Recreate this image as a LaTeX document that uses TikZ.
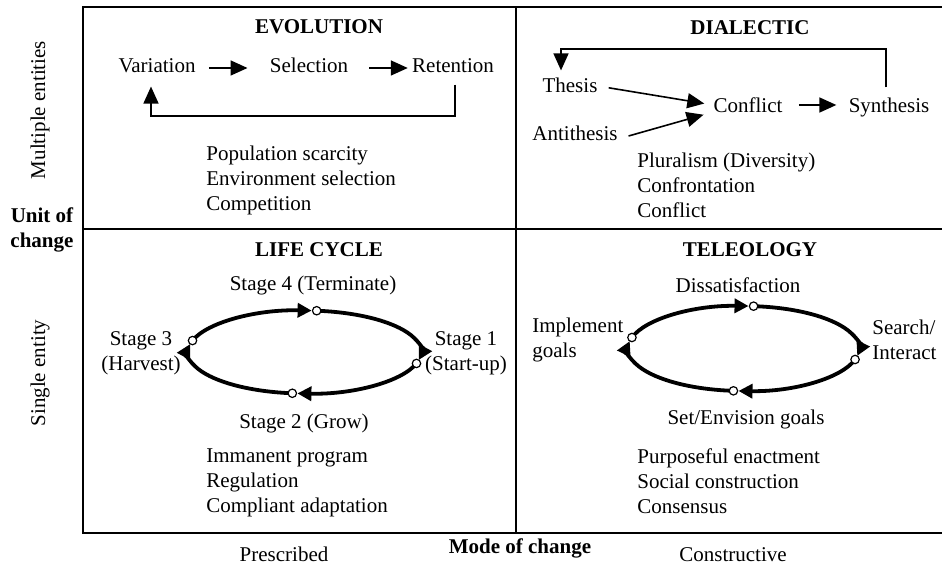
\documentclass[tikz,border=0pt]{standalone}
\usepackage{fontspec}
\setmainfont{Liberation Serif}
\usetikzlibrary{arrows.meta}
\pgfdeclarelayer{bg}
\pgfsetlayers{bg,main}

\begin{document}
\begin{tikzpicture}[x=0.5pt, y=-0.5pt,
	every node/.style={inner sep=0pt, font=\fontsize{10.5}{12.4}\selectfont},
	lbl/.style={text height=0.7em, text depth=0.22em},
	ttl/.style={font=\fontsize{10.5}{12.4}\selectfont\bfseries},
	txt/.style={align=left, anchor=west},
	dot/.style={circle, draw, fill=white, minimum size=4.2pt, line width=0.6pt},
	arr/.style={line width=0.8pt, -{Triangle[length=8.5pt, width=7.5pt]}},
	cyc/.style={line width=1.9pt, -{Triangle[length=7pt, width=7pt]}}
	]
	\useasboundingbox (0,0) rectangle (942,566);
	% \draw[help lines] (0,0) grid[step=50] (942,566);

	% frame
	\draw[line width=1pt] (942,7) -- (83,7) -- (83,533) -- (942,533);
	\draw[line width=1pt] (83,229) -- (942,229);
	\draw[line width=1pt] (516,7) -- (516,533);

	% axes
	\node[rotate=90] (multi) at (40,110) {Multiple entities};
	\node[rotate=90] (single) at (40,373) {Single entity};
	\node[ttl, align=center] (unit) at (42,230) {Unit of\\change};
	\node (presc) at (284,554) {Prescribed};
	\node[ttl] (mode) at (520,548) {Mode of change};
	\node (constr) at (733,555) {Constructive};

	% evolution
	\node[ttl] (evo) at (319,27) {EVOLUTION};
	\node[lbl] (var) at (157,68) {Variation};
	\node[lbl] (sel) at (309,68) {Selection};
	\node[lbl] (ret) at (453,68) {Retention};
	\coordinate (ebot) at (300,116);
	\draw[arr, shorten <=6.5pt, shorten >=11pt] (var) -- (sel);
	\draw[arr, shorten <=10.5pt, shorten >=2pt] (sel) -- (ret);
	\draw[arr] ([shift={(1pt,-3.5pt)}]ret.south) |- (ebot) -| ([shift={(-3pt,-4.5pt)}]var.south);
	\node[txt] (evotxt) at (206,180.5) {Population scarcity\\Environment selection\\Competition};

	% dialectic
	\node[ttl] (dia) at (750,28) {DIALECTIC};
	\node[lbl] (thesis) at (570,88) {Thesis};
	\node[lbl] (anti) at (575,136) {Antithesis};
	\node[lbl] (conf) at (748,108) {Conflict};
	\node[lbl] (syn) at (889,108) {Synthesis};
	\coordinate (dtop) at (700,49);
	\draw[arr, shorten <=5.5pt, shorten >=4.5pt] ([yshift=1pt]thesis.east) -- ([yshift=1.5pt]conf.west);
	\draw[arr, shorten <=5.5pt, shorten >=5pt] ([yshift=-1.5pt]anti.east) -- ([yshift=-2pt]conf.west);
	\draw[arr, shorten <=8pt, shorten >=6pt] ([yshift=1.5pt]conf.east) -- ([yshift=1.5pt]syn.west);
	\draw[arr] ([shift={(-1.5pt,5.5pt)}]syn.north) |- (dtop) -| ([shift={(-4.5pt,4pt)}]thesis.north);
	\node[txt] (diatxt) at (637,185.5) {Pluralism (Diversity)\\Confrontation\\Conflict};

	% life cycle
	\node[ttl] (life) at (319,250) {LIFE CYCLE};
	\coordinate (lcc) at (304.5,352);
	\path (lcc) ++(16:116.5 and 41.5) node[dot] (lc1) {};
	\path (lcc) ++(96:116.5 and 41.5) node[dot] (lc2) {};
	\path (lcc) ++(196:116.5 and 41.5) node[dot] (lc3) {};
	\path (lcc) ++(276:116.5 and 41.5) node[dot] (lc4) {};
	\begin{pgfonlayer}{bg}
		\draw[cyc] (lc4.center) arc[start angle=276, end angle=371, x radius=116.5, y radius=41.5];
		\draw[cyc] (lc1.center) arc[start angle=16, end angle=93.5, x radius=116.5, y radius=41.5];
		\draw[cyc] (lc2.center) arc[start angle=96, end angle=191, x radius=116.5, y radius=41.5];
		\draw[cyc] (lc3.center) arc[start angle=196, end angle=273.5, x radius=116.5, y radius=41.5];
	\end{pgfonlayer}
	\node (st4) at (313,285) {Stage 4 (Terminate)};
	\node[align=center] (st1) at (466,353) {Stage 1\\(Start-up)};
	\node (st2) at (304,423) {Stage 2 (Grow)};
	\node[align=center] (st3) at (141,353) {Stage 3\\(Harvest)};
	\node[txt] (lifetxt) at (206,483) {Immanent program\\Regulation\\Compliant adaptation};

	% teleology
	\node[ttl] (tel) at (750,250) {TELEOLOGY};
	\coordinate (tcc) at (743.5,348.5);
	\path (tcc) ++(15:115.5 and 42.5) node[dot] (tc1) {};
	\path (tcc) ++(95:115.5 and 42.5) node[dot] (tc2) {};
	\path (tcc) ++(195:115.5 and 42.5) node[dot] (tc3) {};
	\path (tcc) ++(275:115.5 and 42.5) node[dot] (tc4) {};
	\begin{pgfonlayer}{bg}
		\draw[cyc] (tc4.center) arc[start angle=275, end angle=370, x radius=115.5, y radius=42.5];
		\draw[cyc] (tc1.center) arc[start angle=15, end angle=92.5, x radius=115.5, y radius=42.5];
		\draw[cyc] (tc2.center) arc[start angle=95, end angle=190, x radius=115.5, y radius=42.5];
		\draw[cyc] (tc3.center) arc[start angle=195, end angle=272.5, x radius=115.5, y radius=42.5];
	\end{pgfonlayer}
	\node (dis) at (738,285) {Dissatisfaction};
	\node[txt] (search) at (872,340) {Search/\\Interact};
	\node (setg) at (746,419) {Set/Envision goals};
	\node[txt] (impl) at (532,340) {Implement\\goals};
	\node[txt] (teltxt) at (637,481) {Purposeful enactment\\Social construction\\Consensus};
\end{tikzpicture}
\end{document}
